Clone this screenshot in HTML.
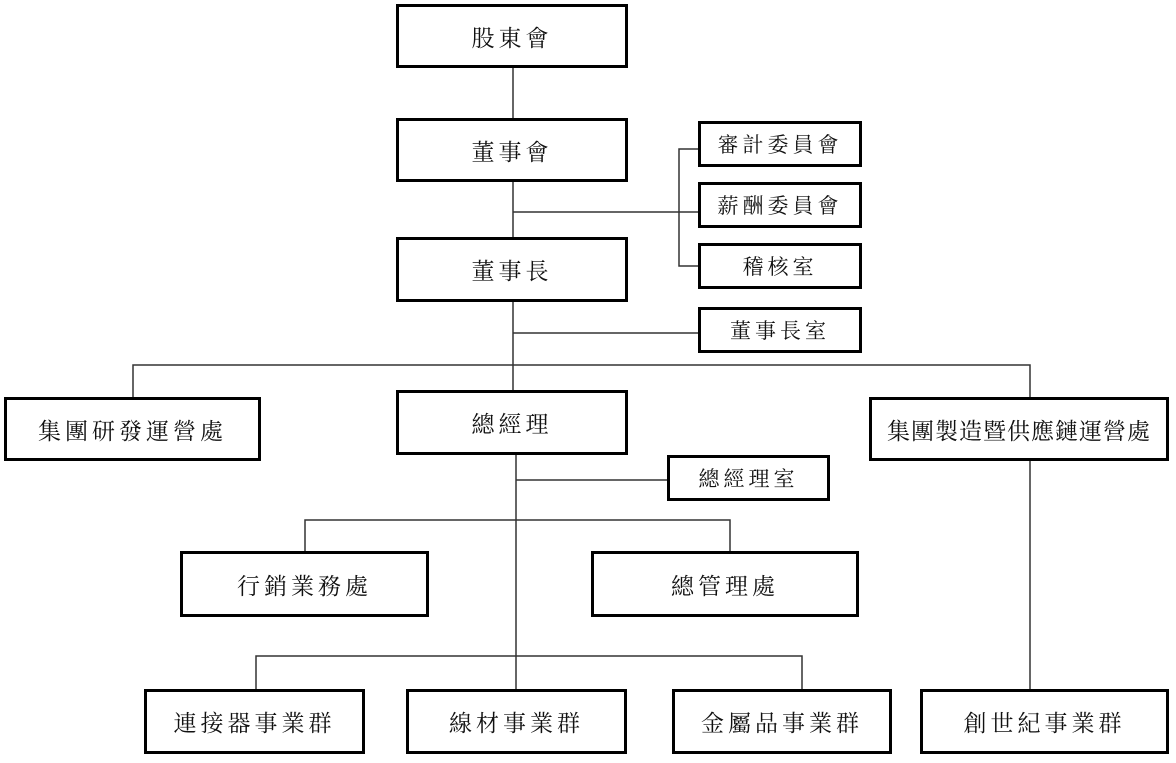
<!DOCTYPE html>
<html><head><meta charset="utf-8"><style>
body{margin:0;background:#fff;width:1176px;height:763px;overflow:hidden;position:relative;font-family:"Liberation Serif","Noto Serif CJK SC","Noto Sans CJK TC",serif;}
.b{position:absolute;box-sizing:border-box;border:3px solid #000;display:flex;align-items:center;justify-content:center;font-size:23px;letter-spacing:4px;color:#111;background:#fff}
.s{font-size:21px}
svg{position:absolute;left:0;top:0}
</style></head><body>
<svg width="1176" height="763"><g stroke="#333" stroke-width="1.5" fill="none">
<line x1="513" y1="67" x2="513" y2="390"/>
<line x1="513" y1="212" x2="700" y2="212"/>
<polyline points="700,149 679,149 679,266 700,266"/>
<line x1="513" y1="333" x2="700" y2="333"/>
<polyline points="133,397 133,365 1030,365 1030,397"/>
<line x1="516" y1="454" x2="516" y2="690"/>
<line x1="516" y1="480" x2="667" y2="480"/>
<polyline points="305,552 305,520 730,520 730,552"/>
<polyline points="256,690 256,656 802,656 802,690"/>
<line x1="1030" y1="460" x2="1030" y2="690"/>
</g></svg>
<div class="b" style="left:396px;top:4px;width:232px;height:64px">股東會</div>
<div class="b" style="left:396px;top:118px;width:232px;height:64px">董事會</div>
<div class="b" style="left:396px;top:237px;width:232px;height:65px">董事長</div>
<div class="b s" style="left:698px;top:121px;width:164px;height:46px">審計委員會</div>
<div class="b s" style="left:698px;top:182px;width:164px;height:46px">薪酬委員會</div>
<div class="b s" style="left:698px;top:243px;width:164px;height:46px">稽核室</div>
<div class="b s" style="left:698px;top:307px;width:164px;height:46px">董事長室</div>
<div class="b" style="left:4px;top:397px;width:257px;height:64px">集團研發運營處</div>
<div class="b" style="left:396px;top:390px;width:232px;height:65px">總經理</div>
<div class="b" style="left:869px;top:397px;width:300px;height:64px;letter-spacing:1px">集團製造暨供應鏈運營處</div>
<div class="b s" style="left:667px;top:455px;width:163px;height:46px">總經理室</div>
<div class="b" style="left:180px;top:551px;width:249px;height:66px">行銷業務處</div>
<div class="b" style="left:591px;top:551px;width:268px;height:66px">總管理處</div>
<div class="b" style="left:144px;top:689px;width:221px;height:65px">連接器事業群</div>
<div class="b" style="left:406px;top:689px;width:221px;height:65px">線材事業群</div>
<div class="b" style="left:672px;top:689px;width:220px;height:65px">金屬品事業群</div>
<div class="b" style="left:920px;top:689px;width:249px;height:65px">創世紀事業群</div>
</body></html>
